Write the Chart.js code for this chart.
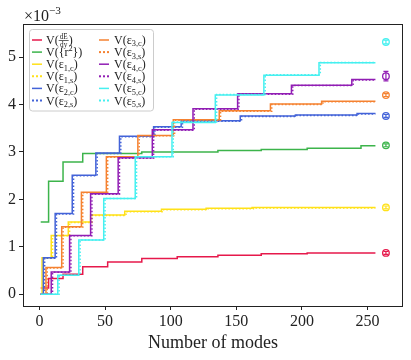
<!DOCTYPE html>
<html>
<head>
<meta charset="utf-8">
<script src="https://cdn.jsdelivr.net/npm/chart.js@4.4.1/dist/chart.umd.min.js"></script>
<style>
html, body { margin: 0; padding: 0; background: #fff; }
</style>
</head>
<body>
<canvas id="chart1" width="411" height="360"></canvas>
<script>
// values are in units of 1e-3, x is the number of modes (step breakpoints)
var xDEdy = [1, 7, 18, 33, 52, 78, 105, 136, 169, 204, 256];
var yDEdy = [0.13, 0.33, 0.42, 0.58, 0.68, 0.75, 0.79, 0.82, 0.85, 0.87, 0.87];
var xR2 = [1, 7, 18, 33, 78, 136, 169, 204, 245, 256];
var yR2 = [1.52, 2.38, 2.79, 2.97, 3.0, 3.03, 3.05, 3.08, 3.13, 3.13];
var xE1c = [1, 2, 9, 22, 39, 65, 93, 127, 162, 256];
var yE1c = [0, 0.77, 1.24, 1.52, 1.67, 1.75, 1.79, 1.81, 1.83, 1.83];
var xE1s = [1, 3, 10, 23, 40, 66, 94, 128, 163, 256];
var yE1s = [0, 0.76, 1.23, 1.51, 1.66, 1.74, 1.78, 1.80, 1.82, 1.82];
var xE2c = [1, 3, 12, 25, 43, 61, 87, 108, 153, 195, 242, 256];
var yE2c = [0, 0.77, 1.70, 2.51, 2.98, 3.33, 3.53, 3.66, 3.76, 3.78, 3.81, 3.81];
var xE2s = [1, 4, 13, 26, 44, 62, 88, 109, 154, 196, 243, 256];
var yE2s = [0, 0.76, 1.69, 2.50, 2.97, 3.32, 3.52, 3.65, 3.75, 3.77, 3.80, 3.80];
var xE3c = [1, 5, 17, 32, 51, 75, 102, 137, 176, 215, 256];
var yE3c = [0, 0.56, 1.42, 2.15, 2.90, 3.35, 3.68, 3.87, 4.01, 4.07, 4.07];
var xE3s = [1, 6, 18, 33, 52, 76, 103, 138, 177, 216, 256];
var yE3s = [0, 0.55, 1.41, 2.14, 2.89, 3.34, 3.67, 3.86, 4.00, 4.06, 4.06];
var xE4c = [1, 9, 23, 39, 60, 86, 117, 151, 192, 238, 256];
var yE4c = [0, 0.47, 1.24, 2.12, 2.88, 3.47, 3.91, 4.23, 4.41, 4.53, 4.53];
var xE4s = [1, 10, 24, 40, 61, 87, 118, 152, 193, 239, 256];
var yE4s = [0, 0.46, 1.23, 2.11, 2.87, 3.46, 3.90, 4.22, 4.40, 4.52, 4.52];
var xE5c = [1, 14, 30, 49, 73, 101, 134, 171, 213, 256];
var yE5c = [0, 0.40, 1.14, 2.02, 2.90, 3.62, 4.20, 4.62, 4.88, 4.88];
var xE5s = [1, 15, 31, 50, 74, 102, 135, 172, 214, 256];
var yE5s = [0, 0.40, 1.14, 2.02, 2.90, 3.63, 4.21, 4.63, 4.89, 4.89];

// reference values with error bars, drawn at the right
var markerX = 264;
var markerY = [0.87, 3.14, 1.83, 3.76, 4.20, 4.60, 5.32];
var markerErr = [0.03, 0.03, 0.03, 0.03, 0.03, 0.10, 0.04];

var xTicks = [0, 50, 100, 150, 200, 250];
var yTicks = [0, 1, 2, 3, 4, 5];

var legendLabels = ['V(\\frac{dE}{dy})', 'V({r^{2}})', 'V(\u03b5_{1,c})', 'V(\u03b5_{1,s})', 'V(\u03b5_{2,c})', 'V(\u03b5_{2,s})',
                    'V(\u03b5_{3,c})', 'V(\u03b5_{3,s})', 'V(\u03b5_{4,c})', 'V(\u03b5_{4,s})', 'V(\u03b5_{5,c})', 'V(\u03b5_{5,s})'];

var red = '#e6194b', green = '#3cb44b', yellow = '#ffe119', blue = '#4363d8',
    orange = '#f58231', purple = '#911eb4', cyan = '#46f0f0';
var markerColors = [red, green, yellow, blue, orange, purple, cyan];

var series = [
    [xDEdy, yDEdy, red, false],
    [xR2, yR2, green, false],
    [xE1c, yE1c, yellow, false],
    [xE1s, yE1s, yellow, true],
    [xE2c, yE2c, blue, false],
    [xE2s, yE2s, blue, true],
    [xE3c, yE3c, orange, false],
    [xE3s, yE3s, orange, true],
    [xE4c, yE4c, purple, false],
    [xE4s, yE4s, purple, true],
    [xE5c, yE5c, cyan, false],
    [xE5s, yE5s, cyan, true]
];

var SERIF = "'Liberation Serif', 'DejaVu Serif', serif";

var datasets = series.map(function (s, i) {
    return {
        label: legendLabels[i],
        data: s[0].map(function (x, j) { return { x: x, y: s[1][j] }; }),
        borderColor: s[2],
        borderWidth: 1.5,
        borderDash: s[3] ? [1.5, 2] : [],
        stepped: 'before',
        pointRadius: 0,
        fill: false,
        order: 100 - i
    };
});
datasets.push({
    type: 'scatter',
    label: 'reference',
    data: markerY.map(function (y) { return { x: markerX, y: y }; }),
    pointStyle: 'circle',
    pointRadius: 3.3,
    pointBorderWidth: 1.3,
    pointBackgroundColor: 'rgba(0,0,0,0)',
    pointBorderColor: markerColors,
    order: 0
});

// tiny text renderer for _{..}, ^{..} and \frac{..}{..}
function drawMath(ctx, str, x, y, size) {
    var parts = str.split(/(_\{[^}]*\}|\^\{[^}]*\}|\\frac\{[^}]*\}\{[^}]*\})/).filter(Boolean);
    ctx.textBaseline = 'alphabetic';
    ctx.textAlign = 'left';
    parts.forEach(function (p) {
        var t;
        if (p.indexOf('_{') === 0) {
            t = p.slice(2, -1);
            ctx.font = (size * 0.7) + 'px ' + SERIF;
            ctx.fillText(t, x, y + size * 0.2);
            x += ctx.measureText(t).width;
        } else if (p.indexOf('^{') === 0) {
            t = p.slice(2, -1);
            ctx.font = (size * 0.7) + 'px ' + SERIF;
            ctx.fillText(t, x, y - size * 0.4);
            x += ctx.measureText(t).width;
        } else if (p.indexOf('\\frac') === 0) {
            var m = p.match(/\\frac\{([^}]*)\}\{([^}]*)\}/);
            ctx.font = (size * 0.6) + 'px ' + SERIF;
            var w1 = ctx.measureText(m[1]).width, w2 = ctx.measureText(m[2]).width;
            var w = Math.max(w1, w2) + 2;
            ctx.fillText(m[1], x + (w - w1) / 2, y - size * 0.42);
            ctx.fillText(m[2], x + (w - w2) / 2, y + size * 0.25);
            ctx.fillRect(x, y - size * 0.33, w, 0.7);
            x += w;
        } else {
            ctx.font = size + 'px ' + SERIF;
            ctx.fillText(p, x, y);
            x += ctx.measureText(p).width;
        }
    });
}

var decor = {
    id: 'decor',
    afterDatasetsDraw: function (chart) {
        var ctx = chart.ctx, xs = chart.scales.x, ys = chart.scales.y, a = chart.chartArea;
        ctx.save();
        // error bars
        markerY.forEach(function (v, i) {
            var px = xs.getPixelForValue(markerX);
            var p1 = ys.getPixelForValue(v - markerErr[i]);
            var p2 = ys.getPixelForValue(v + markerErr[i]);
            ctx.strokeStyle = markerColors[i];
            ctx.lineWidth = 1.2;
            ctx.beginPath();
            ctx.moveTo(px, p1); ctx.lineTo(px, p2);
            ctx.moveTo(px - 2.5, p1); ctx.lineTo(px + 2.5, p1);
            ctx.moveTo(px - 2.5, p2); ctx.lineTo(px + 2.5, p2);
            ctx.stroke();
        });
        // frame
        ctx.strokeStyle = '#222';
        ctx.lineWidth = 1;
        ctx.strokeRect(Math.round(a.left) + 0.5, Math.round(a.top) + 0.5,
                       Math.round(a.right - a.left) - 1, Math.round(a.bottom - a.top));
        // legend
        var bx = 29.5, by = 29.5, bw = 124, bh = 81.5;
        ctx.fillStyle = 'rgba(255,255,255,0.85)';
        ctx.strokeStyle = '#cccccc';
        ctx.beginPath();
        ctx.roundRect(bx, by, bw, bh, 3);
        ctx.fill();
        ctx.stroke();
        series.forEach(function (s, i) {
            var col = i < 6 ? 0 : 1, row = i % 6;
            var lx = col ? 99 : 32, tx = col ? 114 : 46;
            var ly = 40 + row * 12.1;
            ctx.strokeStyle = s[2];
            ctx.lineWidth = s[3] ? 2 : 1.5;
            ctx.setLineDash(s[3] ? [2, 2] : []);
            ctx.beginPath();
            ctx.moveTo(lx, ly); ctx.lineTo(lx + 10, ly);
            ctx.stroke();
            ctx.setLineDash([]);
            ctx.fillStyle = '#222';
            drawMath(ctx, legendLabels[i], tx, ly + 4, 12);
        });
        // axis multiplier
        ctx.fillStyle = '#222';
        drawMath(ctx, '\u00d710^{\u22123}', 24, 20.5, 16);
        ctx.restore();
    }
};

var ctx1 = document.getElementById('chart1').getContext('2d');
var chart1 = new Chart(ctx1, {
    type: 'line',
    data: { datasets: datasets },
    options: {
        responsive: false,
        animation: false,
        layout: { padding: { left: 0, top: 24, right: 8, bottom: 0 } },
        plugins: { legend: { display: false }, tooltip: { enabled: false } },
        scales: {
            x: {
                type: 'linear',
                min: -12.5,
                max: 277,
                afterFit: function (s) { s.height = 54; },
                afterBuildTicks: function (s) { s.ticks = xTicks.map(function (v) { return { value: v }; }); },
                grid: { drawOnChartArea: false, drawTicks: true, tickLength: 4, color: '#222' },
                border: { display: false },
                ticks: { color: '#222', padding: 2, maxRotation: 0, font: { family: SERIF, size: 16 } },
                title: { display: true, text: 'Number of modes', color: '#222',
                         font: { family: SERIF, size: 18 }, padding: { top: 0, bottom: 6 } }
            },
            y: {
                type: 'linear',
                min: -0.25,
                max: 5.7,
                afterFit: function (s) { s.width = 23; },
                afterBuildTicks: function (s) { s.ticks = yTicks.map(function (v) { return { value: v }; }); },
                grid: { drawOnChartArea: false, drawTicks: true, tickLength: 4, color: '#222' },
                border: { display: false },
                ticks: { color: '#222', padding: 3, font: { family: SERIF, size: 16 } }
            }
        }
    },
    plugins: [decor]
});
</script>
</body>
</html>
